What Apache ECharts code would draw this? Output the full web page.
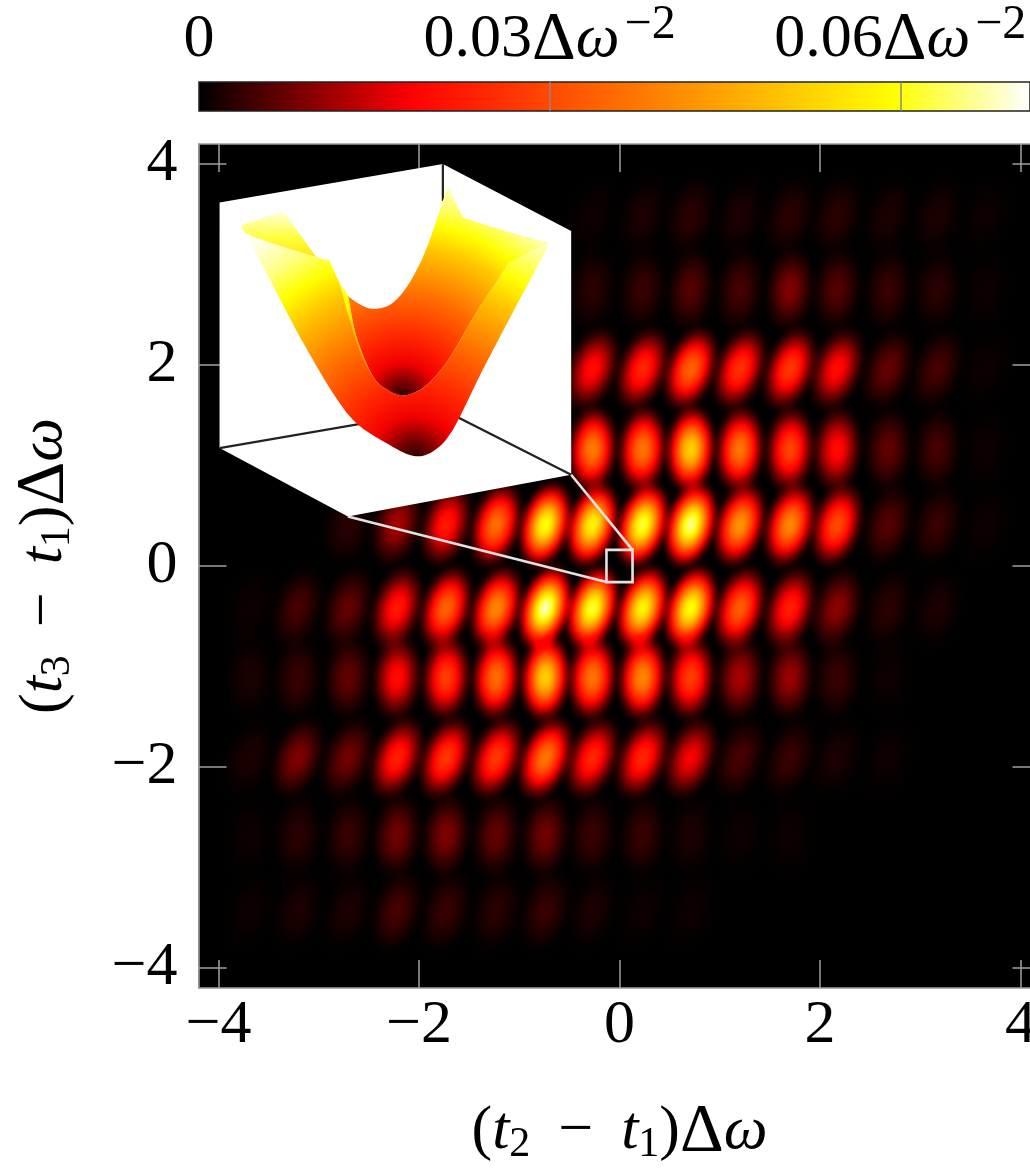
<!DOCTYPE html>
<html>
<head>
<meta charset="utf-8">
<style>html,body{margin:0;padding:0;background:#fff;overflow:hidden}#c{width:1030px;height:1169px}</style>
<script src="https://cdn.jsdelivr.net/npm/echarts@6/dist/echarts.min.js"></script>
</head>
<body>
<div id="c"></div>
<script>
// ---- data ----
const axisTicks = [-4, -2, 0, 2, 4];
const colorbarTicks = [0.03, 0.06];
const colorbarLabels = [0, 0.03, 0.06];
const colorbarMax = 0.0711;
const colorScale = [[0, '#000000'], [0.0182, '#ff0000'], [0.0595, '#ffff00'], [0.0711, '#ffffff']];

const blobColumns = [-3.69, -3.21, -2.71, -2.22, -1.73, -1.23, -0.74, -0.27, 0.23, 0.71, 1.20, 1.70, 2.17, 2.68, 3.17, 3.65];
const blobRows = [3.48, 2.75, 1.96, 1.16, 0.41, -0.42, -1.11, -1.91, -2.68, -3.43];
const blobTilts = [17, 7, 20, 5, 16, 17, 5, 21, 7, 17];
const peaks348 = [0, 0, 0, 0, 0, 0, 0, .001, .002, .003, .002, .003, .003, .002, .002, .001];
const peaks275 = [0, 0, 0, 0, 0, 0, 0, .003, .004, .006, .005, .009, .006, .004, .003, .001];
const peaks196 = [0, 0, 0, 0, 0, 0, 0, .020, .024, .034, .026, .027, .020, .007, .005, .001];
const peaks116 = [0, 0, 0, 0, 0, 0, 0, .038, .037, .052, .037, .029, .020, .007, .005, .001];
const peaks041 = [0, 0, .003, .012, .022, .036, .060, .058, .062, .066, .042, .040, .030, .006, .004, .001];
const peaksN042 = [.001, .005, .007, .022, .034, .040, .068, .062, .058, .060, .033, .023, .010, .003, .002, 0];
const peaksN111 = [.002, .004, .007, .020, .028, .036, .052, .037, .040, .028, .012, .011, .004, .001, 0, 0];
const peaksN191 = [.002, .009, .008, .023, .027, .027, .037, .024, .024, .018, .005, .004, .002, .001, 0, 0];
const peaksN268 = [.001, .003, .004, .008, .009, .007, .008, .004, .004, .002, .001, .001, 0, 0, 0, 0];
const peaksN343 = [.001, .002, .002, .005, .004, .003, .004, .002, .001, .001, 0, 0, 0, 0, 0, 0];
const peakTable = [peaks348, peaks275, peaks196, peaks116, peaks041, peaksN042, peaksN111, peaksN191, peaksN268, peaksN343];

const zoomBoxX = [-0.13, 0.13];
const zoomBoxY = [-0.16, 0.16];

// ---- inset artwork (hand-traced outline, in inset units; each sub-list is one smooth curve) ----
const insetBox = [[60,160],[730,45],[1115,245],[1115,975],[445,1100],[60,895]];
const insetEdges = [[[60,895],[730,780],[1115,975]], [[730,45],[730,155]]];
const insetBackTab = [[[125,228],[250,185]],[[250,185],[355,330]],[[355,330],[160,265],[125,228]]];
const insetInner = [
  [[445,440],[490,470],[530,478],[580,460],[630,400],[680,300],[725,170]],
  [[725,170],[745,110]],[[745,110],[790,205]],[[790,205],[900,240],[1050,282]],
  [[1050,282],[925,345]],
  [[925,345],[900,385],[830,490],[740,640],[670,715],[610,738],[570,725],[520,680],[470,560],[445,440]]
];
const insetFront = [
  [[125,232],[160,262],[390,335]],[[390,335],[420,400],[445,440]],
  [[445,440],[470,560],[520,680],[570,725],[610,738],[670,715],[740,640],[830,490],[900,385],[925,345]],
  [[925,345],[1050,285]],
  [[1050,285],[950,470],[850,660],[760,840],[700,905],[640,918],[560,880],[470,820],[400,730],[300,560],[200,370],[125,232]]
];
const insetLip = [
  [[400,340],[420,400],[445,440],[470,560],[520,680],[570,725],[610,738]],
  [[610,738],[545,710],[495,640],[450,510],[425,420],[400,340]]
];
const insetStops = [[0,'#200000'],[.06,'#700000'],[.15,'#f00000'],[.25,'#ff2000'],[.45,'#ff7000'],[.65,'#ffc800'],[.75,'#ffff00'],[.85,'#ffff80'],[1,'#ffffff']];

// ---- helpers ----
function hex(c){return [parseInt(c.slice(1,3),16),parseInt(c.slice(3,5),16),parseInt(c.slice(5,7),16)];}
function cmap(v){
  for(let i=1;i<colorScale.length;i++){
    if(v<=colorScale[i][0]){
      const a=colorScale[i-1],b=colorScale[i],t=(v-a[0])/(b[0]-a[0]);
      const A=hex(a[1]),B=hex(b[1]);
      return 'rgb('+A.map((x,k)=>Math.round(x+(B[k]-x)*t)).join(',')+')';
    }
  }
  return colorScale[colorScale.length-1][1];
}
function blobGradient(peak){
  const stops=[];
  for(let i=0;i<=12;i++){
    const t=i/12,f=Math.cos(Math.PI*t/2);
    stops.push({offset:t,color:cmap(peak*f*f)});
  }
  return {type:'radial',x:.5,y:.5,r:.5,colorStops:stops};
}
const blobData=[];
peakTable.forEach((row,r)=>row.forEach((p,c)=>{
  if(p>0) blobData.push({value:[blobColumns[c],blobRows[r],p],symbolRotate:-blobTilts[r],itemStyle:{color:blobGradient(p),opacity:1}});
}));

function insetToData(p){return [(p[0]/3+200-620)/100.25,(566-(p[1]/3+150))/100.25];}
function spline(pts){
  if(pts.length<3) return pts.slice();
  const out=[];
  for(let i=0;i<pts.length-1;i++){
    const p0=pts[Math.max(i-1,0)],p1=pts[i],p2=pts[i+1],p3=pts[Math.min(i+2,pts.length-1)];
    for(let k=0;k<8;k++){
      const t=k/8,t2=t*t,t3=t2*t;
      out.push([0,1].map(d=>.5*(2*p1[d]+(p2[d]-p0[d])*t+(2*p0[d]-5*p1[d]+4*p2[d]-p3[d])*t2+(3*p1[d]-p0[d]-3*p2[d]+p3[d])*t3)));
    }
  }
  out.push(pts[pts.length-1]);
  return out;
}
function outline(segments){return segments.reduce((a,s)=>a.concat(spline(s)),[]);}

function renderInset(params,api){
  const pt=p=>api.coord(insetToData(p));
  const poly=(pts,fill,z2)=>({type:'polygon',z2:z2,shape:{points:pts.map(pt)},style:{fill:fill}});
  const radial=(cx,cy,R)=>{
    const c=pt([cx,cy]),e=pt([cx+R,cy]);
    return {type:'radial',x:c[0],y:c[1],r:e[0]-c[0],global:true,colorStops:insetStops.map(s=>({offset:s[0],color:s[1]}))};
  };
  const a=pt([0,185]),b=pt([0,340]);
  const tabFill={type:'linear',x:0,y:a[1],x2:0,y2:b[1],global:true,colorStops:[{offset:0,color:'#ffffe0'},{offset:.5,color:'#ffff40'},{offset:1,color:'#ffe000'}]};
  const l1=pt([0,340]),l2=pt([0,740]);
  const lipFill={type:'linear',x:0,y:l1[1],x2:0,y2:l2[1],global:true,colorStops:[{offset:0,color:'#ffffc0'},{offset:.3,color:'#ffff00'},{offset:.7,color:'#ffa000'},{offset:1,color:'#ff3000'}]};
  const kids=[poly(insetBox,'#ffffff',1)];
  insetEdges.forEach(e=>kids.push({type:'polyline',z2:2,shape:{points:e.map(pt)},style:{stroke:'#222',lineWidth:2.2,fill:null}}));
  kids.push(poly(outline(insetBackTab),tabFill,3));
  kids.push(poly(outline(insetInner),radial(610,745,700),4));
  kids.push(poly(outline(insetFront),radial(645,925,820),5));
  kids.push(poly(outline(insetLip),lipFill,6));
  const c=(x,y)=>api.coord([x,y]);
  const line={stroke:'#e2e2e2',lineWidth:2.6,fill:null};
  kids.push({type:'polyline',z2:7,shape:{points:[pt([1115,975]),c(zoomBoxX[1],zoomBoxY[1])]},style:line});
  kids.push({type:'polyline',z2:7,shape:{points:[pt([445,1100]),c(zoomBoxX[0],zoomBoxY[0])]},style:line});
  kids.push({type:'polygon',z2:7,shape:{points:[c(zoomBoxX[0],zoomBoxY[0]),c(zoomBoxX[1],zoomBoxY[0]),c(zoomBoxX[1],zoomBoxY[1]),c(zoomBoxX[0],zoomBoxY[1])]},style:line});
  return {type:'group',children:kids};
}

function renderColorbar(params,api){
  const s=api.coord([0,0]),e=api.coord([colorbarMax,1]);
  const r={x:s[0],y:e[1],width:e[0]-s[0],height:s[1]-e[1]};
  return {type:'rect',shape:r,style:{stroke:'#222',lineWidth:1.5,fill:{type:'linear',x:0,y:0,x2:1,y2:0,
    colorStops:colorScale.map(c=>({offset:c[0]/colorbarMax,color:c[1]}))}}};
}

const FONT='"Liberation Serif"';
const tickGray='#a0a0a0';
const rich={
  n:{fontFamily:FONT,fontSize:62,color:'#000'},
  d:{fontFamily:FONT,fontSize:68,color:'#000'},
  i:{fontFamily:FONT,fontSize:62,fontStyle:'italic',color:'#000'},
  s:{fontFamily:FONT,fontSize:42,color:'#000',padding:[18,0,0,0],verticalAlign:'bottom'},
  u:{fontFamily:FONT,fontSize:48,color:'#000',padding:[0,0,30,5],verticalAlign:'bottom'},
  e:{fontFamily:FONT,fontSize:48,color:'#000',padding:[0,0,30,0],verticalAlign:'bottom',width:0}
};
function mainAxis(extra){
  return Object.assign({type:'value',min:-4.2,max:4.2,gridIndex:0,z:3,
    axisLine:{show:true,onZero:false,lineStyle:{color:'#9a9a9a',width:1.5}},
    axisTick:{show:true,inside:true,length:28,customValues:axisTicks,lineStyle:{color:tickGray,width:1.5}},
    splitLine:{show:false},
    axisLabel:{show:false}},extra);
}
const tickLabel={show:true,customValues:axisTicks,fontFamily:FONT,fontSize:62,color:'#000',hideOverlap:false,
  formatter:v=>String(v).replace('-','\u2212')};
const thin='\u2009';

const option={
  animation:false,
  backgroundColor:'#ffffff',
  grid:[
    {left:198.5,top:144,width:842,height:844,show:true,backgroundColor:'#000000',borderWidth:0,outerBoundsMode:'none',containLabel:false},
    {left:199,top:82,width:831,height:29,show:false,outerBoundsMode:'none',containLabel:false}
  ],
  xAxis:[
    mainAxis({position:'bottom',axisLabel:Object.assign({margin:7},tickLabel),
      name:'({i|t}{s|2}'+thin+' \u2212 '+thin+'{i|t}{s|1}){d|\u0394}{i|\u03c9}',nameLocation:'middle',nameGap:110,
      nameTextStyle:{rich:rich,fontFamily:FONT,fontSize:62,color:'#000'}}),
    mainAxis({position:'top'}),
    {type:'value',gridIndex:1,min:0,max:colorbarMax,position:'top',z:5,
      axisLine:{show:false,onZero:false},splitLine:{show:false},
      axisTick:{show:true,inside:true,length:29,customValues:colorbarTicks,lineStyle:{color:'#888',width:1.5}},
      axisLabel:{show:true,customValues:colorbarLabels,margin:3,hideOverlap:false,
        formatter:v=>v===0?'{n|0}{e|\u200a}':'{n|'+v.toFixed(2)+'}{d|\u0394}{i|\u03c9}{u|\u22122}',rich:rich}}
  ],
  yAxis:[
    mainAxis({position:'left',axisLabel:Object.assign({margin:21},tickLabel),
      name:'({i|t}{s|3}'+thin+' \u2212 '+thin+'{i|t}{s|1}){d|\u0394}{i|\u03c9}',nameLocation:'middle',nameGap:120,nameRotate:90,
      nameTextStyle:{rich:rich,fontFamily:FONT,fontSize:62,color:'#000'}}),
    mainAxis({position:'right'}),
    {type:'value',gridIndex:1,min:0,max:1,show:false}
  ],
  series:[
    {type:'scatter',xAxisIndex:0,yAxisIndex:0,z:2,blendMode:'lighter',symbol:'circle',symbolSize:[58,100],
      data:blobData,silent:true,emphasis:{disabled:true}},
    {type:'custom',xAxisIndex:0,yAxisIndex:0,z:6,data:[[0,0]],renderItem:renderInset,clip:false,silent:true},
    {type:'custom',xAxisIndex:2,yAxisIndex:2,z:2,data:[[0,0]],renderItem:renderColorbar,clip:false,silent:true}
  ]
};
const chart=echarts.init(document.getElementById('c'),null,{renderer:'canvas',width:1030,height:1169});
chart.setOption(option);
</script>
</body>
</html>
